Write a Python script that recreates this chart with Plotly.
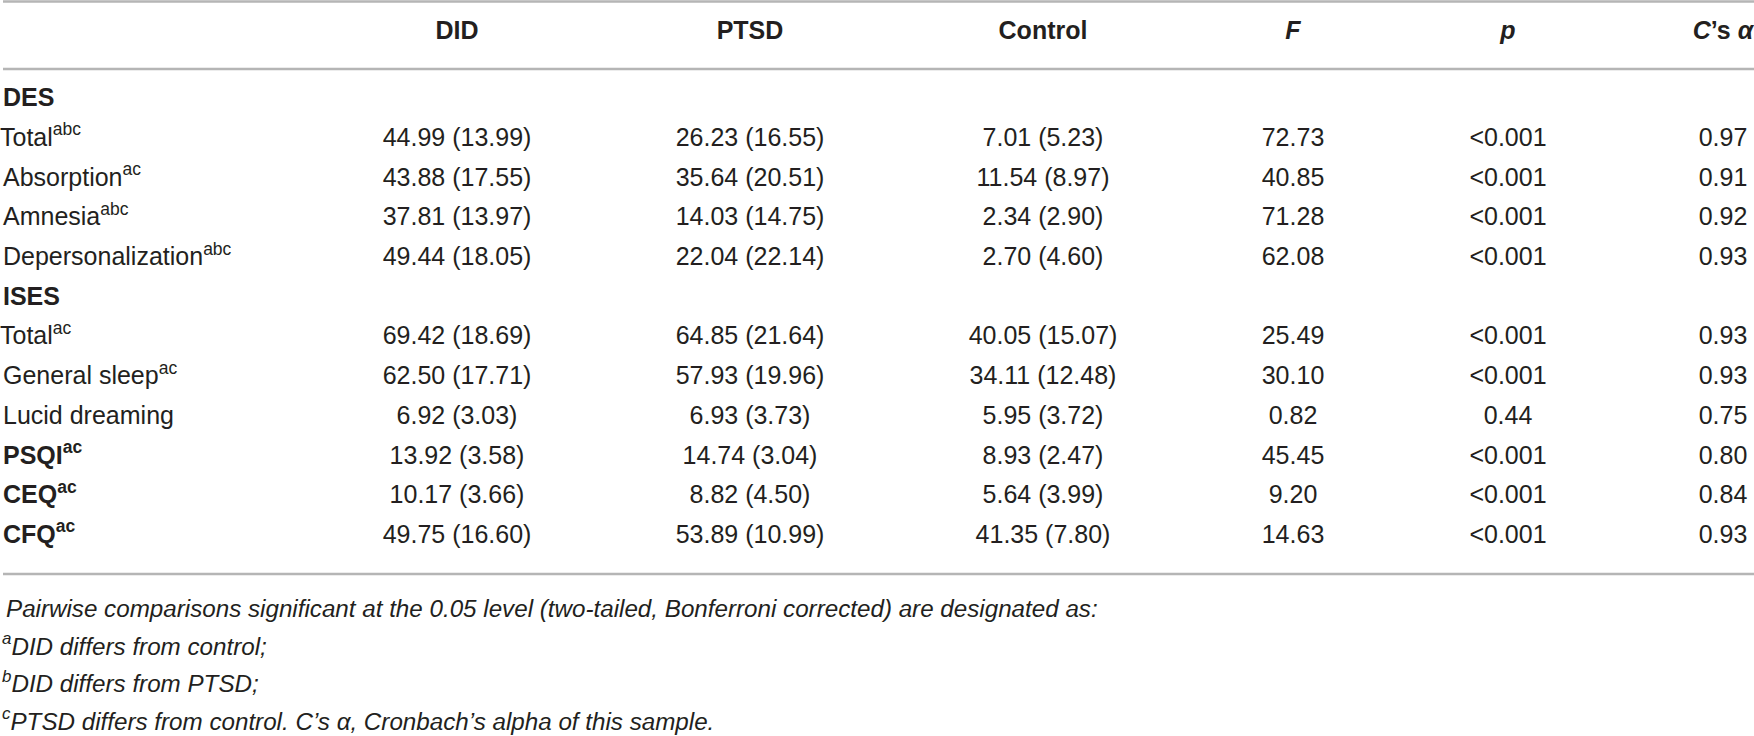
import plotly.graph_objects as go

# 表格資料
columns = ["DID", "PTSD", "Control", "<i>F</i>", "<i>p</i>", "<i>C</i>’s <i>α</i>"]

row_names = ["DES", "Total", "Absorption", "Amnesia", "Depersonalization",
             "ISES", "Total", "General sleep", "Lucid dreaming",
             "PSQI", "CEQ", "CFQ"]
row_sups = ["", "abc", "ac", "abc", "abc", "", "ac", "ac", "", "ac", "ac", "ac"]
row_bold = [True, False, False, False, False, True, False, False, False, True, True, True]

did_mean = [None, 44.99, 43.88, 37.81, 49.44, None, 69.42, 62.50, 6.92, 13.92, 10.17, 49.75]
did_sd = [None, 13.99, 17.55, 13.97, 18.05, None, 18.69, 17.71, 3.03, 3.58, 3.66, 16.60]
ptsd_mean = [None, 26.23, 35.64, 14.03, 22.04, None, 64.85, 57.93, 6.93, 14.74, 8.82, 53.89]
ptsd_sd = [None, 16.55, 20.51, 14.75, 22.14, None, 21.64, 19.96, 3.73, 3.04, 4.50, 10.99]
ctrl_mean = [None, 7.01, 11.54, 2.34, 2.70, None, 40.05, 34.11, 5.95, 8.93, 5.64, 41.35]
ctrl_sd = [None, 5.23, 8.97, 2.90, 4.60, None, 15.07, 12.48, 3.72, 2.47, 3.99, 7.80]
f_values = [None, 72.73, 40.85, 71.28, 62.08, None, 25.49, 30.10, 0.82, 45.45, 9.20, 14.63]
p_values = [None, "<0.001", "<0.001", "<0.001", "<0.001", None,
            "<0.001", "<0.001", "0.44", "<0.001", "<0.001", "<0.001"]
alpha_values = [None, 0.97, 0.91, 0.92, 0.93, None, 0.93, 0.93, 0.75, 0.80, 0.84, 0.93]

footnotes = [
    "Pairwise comparisons significant at the 0.05 level (two-tailed, Bonferroni corrected) are designated as:",
    "<sup>a</sup>DID differs from control;",
    "<sup>b</sup>DID differs from PTSD;",
    "<sup>c</sup>PTSD differs from control. C’s α, Cronbach’s alpha of this sample.",
]

# 版面設定
W, H = 1754, 736
FONT = "Liberation Sans Narrow, Arial Narrow, Liberation Sans, Arial, sans-serif"
TEXT_COLOR = "#231f20"
RULE_COLOR = "#b5b5b5"
COL_X = [457, 750, 1043, 1293, 1508, 1723]
HEADER_Y = 33
ROW_Y0, ROW_STEP = 100, 39.7
FOOT_Y0, FOOT_STEP = 611, 37.5
FS = 25

row_y = [ROW_Y0 + i * ROW_STEP for i in range(len(row_names))]


def fmt_msd(m, s):
    return None if m is None else f"{m:.2f} ({s:.2f})"


def fmt_num(v):
    return None if v is None else f"{v:.2f}"


labels = []
for name, sup, bold in zip(row_names, row_sups, row_bold):
    t = name + (f"<sup>{sup}</sup>" if sup else "")
    labels.append(f"<b>{t}</b>" if bold else t)

label_x = [0 if n == "Total" else 3 for n in row_names]

cells = [
    [fmt_msd(m, s) for m, s in zip(did_mean, did_sd)],
    [fmt_msd(m, s) for m, s in zip(ptsd_mean, ptsd_sd)],
    [fmt_msd(m, s) for m, s in zip(ctrl_mean, ctrl_sd)],
    [fmt_num(v) for v in f_values],
    list(p_values),
    [fmt_num(v) for v in alpha_values],
]

fig = go.Figure()

# 表頭
fig.add_trace(go.Scatter(
    x=COL_X, y=[HEADER_Y] * len(columns),
    text=[f"<b>{c}</b>" for c in columns],
    mode="text", textposition="middle center",
    textfont=dict(family=FONT, size=FS, color=TEXT_COLOR),
    hoverinfo="skip", cliponaxis=False, showlegend=False
))

# 列標籤
fig.add_trace(go.Scatter(
    x=label_x, y=row_y, text=labels,
    mode="text", textposition="middle right",
    textfont=dict(family=FONT, size=FS, color=TEXT_COLOR),
    hoverinfo="skip", cliponaxis=False, showlegend=False
))

# 各欄數值（空白列略過）
for cx, col in zip(COL_X, cells):
    ys = [y for y, t in zip(row_y, col) if t is not None]
    ts = [t for t in col if t is not None]
    fig.add_trace(go.Scatter(
        x=[cx] * len(ts), y=ys, text=ts,
        mode="text", textposition="middle center",
        textfont=dict(family=FONT, size=FS, color=TEXT_COLOR),
        hoverinfo="skip", cliponaxis=False, showlegend=False
    ))

# 註解
fig.add_trace(go.Scatter(
    x=[6, 2, 2, 2],
    y=[FOOT_Y0 + i * FOOT_STEP for i in range(len(footnotes))],
    text=[f"<i>{t}</i>" for t in footnotes],
    mode="text", textposition="middle right",
    textfont=dict(family=FONT, size=24.2, color=TEXT_COLOR),
    hoverinfo="skip", cliponaxis=False, showlegend=False
))

# 橫線
for yy in [1.5, 69, 574]:
    fig.add_shape(type="line", x0=3, x1=W, y0=yy, y1=yy, xref="x", yref="y",
                  line=dict(color=RULE_COLOR, width=2.5))

fig.update_xaxes(range=[0, W], visible=False, fixedrange=True)
fig.update_yaxes(range=[H, 0], visible=False, fixedrange=True)

fig.update_layout(
    width=W, height=H,
    margin=dict(l=0, r=0, t=0, b=0),
    paper_bgcolor="white", plot_bgcolor="white",
    font=dict(family=FONT, color=TEXT_COLOR),
)

# 去掉頁面預設邊距，讓圖表貼齊視窗
fig.write_html("out.html",
               config={"displayModeBar": False},
               post_script="document.body.style.margin='0';document.body.style.overflow='hidden';")
